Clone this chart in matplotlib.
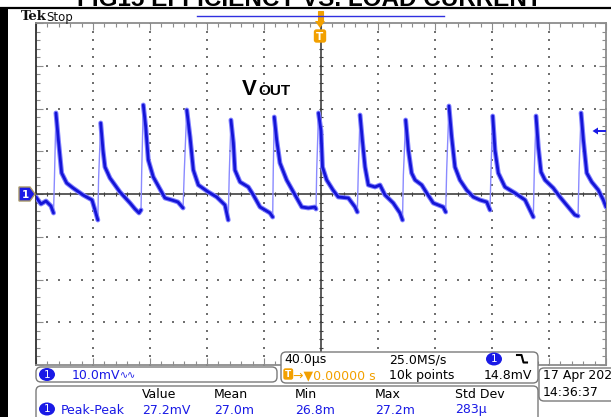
import numpy as np
import matplotlib
matplotlib.use("Agg")
import matplotlib.pyplot as plt
from matplotlib.transforms import Affine2D
from matplotlib.patches import FancyBboxPatch, Ellipse, Polygon, Rectangle
from matplotlib.lines import Line2D

# ---------------- data ----------------
# time in microseconds (40 us/div, trigger at centre), voltage in mV (10 mV/div)
t_us = [-200.0, -196.5, -193.0, -189.5, -187.7, -187.0, -186.0, -184.3, -182.0, -178.5,
        -174.0, -167.0, -160.7, -158.6, -156.6, -156.1, -154.6, -153.0, -151.6, -148.1,
        -141.1, -134.0, -130.5, -127.7, -126.3, -125.8, -124.7, -123.0, -121.2, -117.7,
        -111.8, -109.5, -104.8, -100.4, -96.8, -95.9, -94.2, -91.9, -89.6, -86.1,
        -79.1, -73.2, -67.4, -65.1, -64.4, -63.2, -61.5, -60.4, -56.8, -51.0,
        -47.5, -42.8, -35.8, -33.9, -33.5, -32.8, -31.1, -28.8, -24.1, -18.2,
        -13.5, -8.9, -4.2, -3.5, -3.0, -1.75, 0.0, 1.05, 4.0, 8.4,
        12.1, 19.2, 23.9, 25.5, 26.2, 27.4, 29.0, 30.9, 33.2, 37.9,
        41.4, 44.9, 50.7, 55.4, 57.2, 57.8, 59.4, 61.3, 63.6, 66.0,
        70.7, 74.2, 78.8, 85.8, 87.5, 88.2, 89.8, 91.7, 94.0, 97.5,
        102.2, 106.9, 111.6, 116.3, 118.6, 119.3, 120.5, 122.1, 124.4, 129.1,
        136.1, 143.2, 149.0, 149.7, 150.9, 152.5, 154.4, 157.2, 163.0, 167.7,
        173.5, 178.2, 180.4, 181.1, 182.5, 184.1, 186.5, 190.0, 194.6, 198.1,
        200.0]
v_mV = [-0.70, -2.34, -1.64, -2.81, -4.44, 4.44, 18.95, 12.63, 4.91, 2.57,
        1.40, -0.23, -1.40, -3.74, -6.08, 3.27, 16.61, 10.29, 6.32, 3.74,
        0.47, -2.11, -3.51, -4.44, -3.74, 5.61, 20.82, 15.67, 7.95, 3.98,
        0.47, -0.94, -1.40, -1.87, -3.27, 5.61, 19.65, 13.33, 5.61, 2.11,
        0.47, -0.70, -2.57, -6.08, 4.44, 17.31, 11.93, 5.61, 2.81, 1.64,
        -0.23, -3.04, -4.44, -5.38, 5.61, 18.01, 12.63, 7.25, 3.27, -0.23,
        -3.04, -3.27, -3.04, -3.51, 5.61, 18.95, 14.74, 6.32, 3.27, 0.94,
        -0.70, -0.94, -3.04, -4.21, 5.61, 18.48, 12.63, 6.32, 2.11, 1.64,
        2.11, -0.23, -2.11, -4.44, -6.08, 4.44, 17.31, 10.29, 4.91, 3.27,
        2.11, 0.23, -2.11, -3.04, -4.21, 5.61, 20.58, 13.33, 6.32, 3.27,
        0.94, -0.70, -1.40, -1.87, -3.74, 5.61, 18.24, 10.29, 4.91, 1.64,
        0.23, -1.40, -5.38, 5.61, 18.24, 10.99, 5.15, 3.27, 1.40, -0.70,
        -3.04, -4.91, -5.15, 5.61, 18.95, 12.63, 4.91, 2.81, 0.94, -1.40,
        -3.04]

title_text = "FIG15 EFFICIENCY VS. LOAD CURRENT"
trace_label = ("V", "OUT")
ch_scale = "10.0mV"
timebase = "40.0\u00b5s"
sample_rate = "25.0MS/s"
trig_pos = "0.00000 s"
record_len = "10k points"
trig_level = "14.8mV"
meas_headers = ["Value", "Mean", "Min", "Max", "Std Dev"]
meas_name = "Peak-Peak"
meas_values = ["27.2mV", "27.0m", "26.8m", "27.2m", "283\u00b5"]
date_lines = ["17 Apr 2020", "14:36:37"]

# ---------------- figure ----------------
W, H, DPI = 611, 417, 100
fig = plt.figure(figsize=(W / DPI, H / DPI), dpi=DPI, facecolor="white")
PX = Affine2D().scale(1 / DPI, -1 / DPI).translate(0, H / DPI) + fig.dpi_scale_trans

BLUE = "#1a1ae6"
TRACE = "#1414d6"
HALO = "#8080ff"
ORANGE = "#f2a000"
GREY = "#8c8c8c"

ax = fig.add_axes([36 / W, 1 - 365 / H, 570 / W, 342 / H])
ax.set_xlim(-200, 200)
ax.set_ylim(-40, 40)
ax.set_facecolor("white")
for s, sp in ax.spines.items():
    sp.set_color("#303030" if s == "left" else GREY)
    sp.set_linewidth(1.3)
ax.set_xticks(np.arange(-200, 201, 40))
ax.set_xticks(np.arange(-200, 201, 8), minor=True)
ax.set_yticks(np.arange(-40, 41, 10))
ax.set_yticks(np.arange(-40, 41, 2), minor=True)
ax.tick_params(which="both", direction="in", top=True, right=True,
               labelbottom=False, labelleft=False, color=GREY, width=0.8)
ax.tick_params(which="major", length=5)
ax.tick_params(which="minor", length=3)

# dotted graticule
xmaj = np.arange(-160, 161, 40)
ymaj = np.arange(-30, 31, 10)
yminr = np.arange(-40, 41, 2)
xminr = np.arange(-200, 201, 8)
for xm in xmaj:
    if xm != 0:
        ax.scatter(np.full(yminr.size, xm), yminr, marker=",", s=1, color="#707070", lw=0, zorder=1)
for ym in ymaj:
    if ym != 0:
        ax.scatter(xminr, np.full(xminr.size, ym), marker=",", s=1, color="#707070", lw=0, zorder=1)
# centre cross with ticks
ax.axhline(0, color="#404040", lw=1.2, zorder=2)
ax.axvline(0, color="#404040", lw=1.2, zorder=2)
ax.vlines(xminr, -0.5, 0.5, color="#404040", lw=0.8, zorder=2)
ax.hlines(yminr, -1.4, 1.4, color="#404040", lw=0.8, zorder=2)

# trace
t = np.array(t_us)
v = np.array(v_mV)
ax.plot(t, v, color="#8a8aff", lw=1.0, zorder=3)
tt, vv = [], []
for i in range(len(t)):
    if i > 0 and v[i] - v[i - 1] > 6:
        tt.append(np.nan)
        vv.append(np.nan)
    tt.append(t[i])
    vv.append(v[i])
ax.plot(tt, vv, color=HALO, lw=3.5, zorder=4, solid_joinstyle="round", solid_capstyle="round")
ax.plot(tt, vv, color=TRACE, lw=2.0, zorder=5, solid_joinstyle="round", solid_capstyle="round")

# ---------------- decorations in pixel coords ----------------
def add(a):
    fig.add_artist(a)

# left black bar and top rule
add(Rectangle((0, 8), 7.5, 420, transform=PX, color="black", lw=0))
add(Line2D([0, W], [8, 8], transform=PX, color="black", lw=1.6))
fig.text(309, 5.5, title_text, transform=PX, ha="center", va="baseline",
         fontsize=17.5, fontweight="bold", family="Liberation Sans", color="black")

fig.text(21, 20.5, "Tek", transform=PX, fontsize=9.5, family="DejaVu Serif",
         fontweight="bold", va="baseline", color="#111111")
fig.text(46, 20.5, "Stop", transform=PX, fontsize=8.5, va="baseline", color="#111111")
add(Line2D([197, 444], [15.5, 15.5], transform=PX, color="#3030e0", lw=1.0))

# trigger position marker (top)
add(Rectangle((317.5, 11), 5, 10, transform=PX, facecolor=ORANGE, edgecolor=ORANGE, lw=0.8))
add(Polygon([(315, 21), (325, 21), (320, 28)], closed=True, transform=PX, color=ORANGE, lw=0))
add(FancyBboxPatch((314.5, 30), 11, 12, boxstyle="round,pad=0,rounding_size=2",
                   transform=PX, facecolor=ORANGE, edgecolor=ORANGE))
fig.text(320, 36.5, "T", transform=PX, ha="center", va="center", fontsize=7.5,
         fontweight="bold", color="white")

# channel 1 ground marker (left)
add(Polygon([(19, 187), (30, 187), (35, 194), (30, 201), (19, 201)], closed=True,
            transform=PX, facecolor=BLUE, edgecolor="#a89868", lw=1.0))
fig.text(25.5, 194.5, "1", transform=PX, ha="center", va="center", fontsize=7.5,
         fontweight="bold", color="white")

# trigger level arrow (right)
add(Polygon([(592.5, 131), (598, 127.5), (598, 134.5)], closed=True, transform=PX, color=BLUE, lw=0))
add(Line2D([598, 605], [131, 131], transform=PX, color=BLUE, lw=1.4))

# VOUT label
fig.text(242, 95, trace_label[0], transform=PX, fontsize=16, fontweight="bold",
         family="Liberation Sans", va="baseline", color="black")
fig.text(258, 95, trace_label[1], transform=PX, fontsize=11, fontweight="bold",
         family="Liberation Sans", va="baseline", color="black")

def rbox(x0, y0, x1, y1):
    add(FancyBboxPatch((x0, y0), x1 - x0, y1 - y0, boxstyle="round,pad=0,rounding_size=5",
                       transform=PX, facecolor="white", edgecolor="#7a7a7a", lw=1.0, zorder=5))

def badge(xc, yc):
    add(Ellipse((xc, yc), 16, 13, transform=PX, facecolor=BLUE, edgecolor="none", zorder=6))
    fig.text(xc, yc + 0.5, "1", transform=PX, ha="center", va="center", fontsize=7.5,
             color="white", zorder=7)

FS = 9
# timebase box
rbox(281, 352, 538, 383)
fig.text(284, 363.5, timebase, transform=PX, fontsize=FS, va="baseline", color="black", zorder=7)
fig.text(389, 363.5, sample_rate, transform=PX, fontsize=FS, va="baseline", color="black", zorder=7)
badge(494, 359)
add(Line2D([517, 521.5, 523.5, 527], [355, 355, 362.5, 362.5], transform=PX,
           color="black", lw=1.5, zorder=7))
add(FancyBboxPatch((284, 369), 8.5, 10, boxstyle="round,pad=0,rounding_size=1.5",
                   transform=PX, facecolor=ORANGE, edgecolor=ORANGE, zorder=6))
fig.text(288.3, 374.3, "T", transform=PX, ha="center", va="center", fontsize=6.5,
         fontweight="bold", color="white", zorder=7)
fig.text(293, 379, "\u2192\u25bc" + trig_pos, transform=PX, fontsize=FS, va="baseline",
         color=ORANGE, zorder=7)
fig.text(389, 379, record_len, transform=PX, fontsize=FS, va="baseline", color="black", zorder=7)
fig.text(484, 379, trig_level, transform=PX, fontsize=FS, va="baseline", color="black", zorder=7)

# channel box
rbox(36, 367, 277, 382)
badge(47, 374.5)
fig.text(72, 379, ch_scale, transform=PX, fontsize=FS, va="baseline", color=BLUE, zorder=7)
fig.text(120, 378.5, "\u223f\u223f", transform=PX, fontsize=7, va="baseline", color=BLUE, zorder=7)

# measurement box
rbox(36, 386, 538, 428)
mx = [142, 214, 295, 375, 455]
for x, h in zip(mx, meas_headers):
    fig.text(x, 397.5, h, transform=PX, fontsize=FS, va="baseline", color="black", zorder=7)
badge(47, 409)
fig.text(61, 413.5, meas_name, transform=PX, fontsize=FS, va="baseline", color=BLUE, zorder=7)
for x, val in zip(mx, meas_values):
    fig.text(x, 413.5, val, transform=PX, fontsize=FS, va="baseline", color=BLUE, zorder=7)

# date box
rbox(539, 368, 625, 401)
fig.text(543, 379.5, date_lines[0], transform=PX, fontsize=FS, va="baseline", color="black", zorder=7)
fig.text(543, 396.5, date_lines[1], transform=PX, fontsize=FS, va="baseline", color="black", zorder=7)

fig.savefig("out.png", dpi=DPI, facecolor="white")
